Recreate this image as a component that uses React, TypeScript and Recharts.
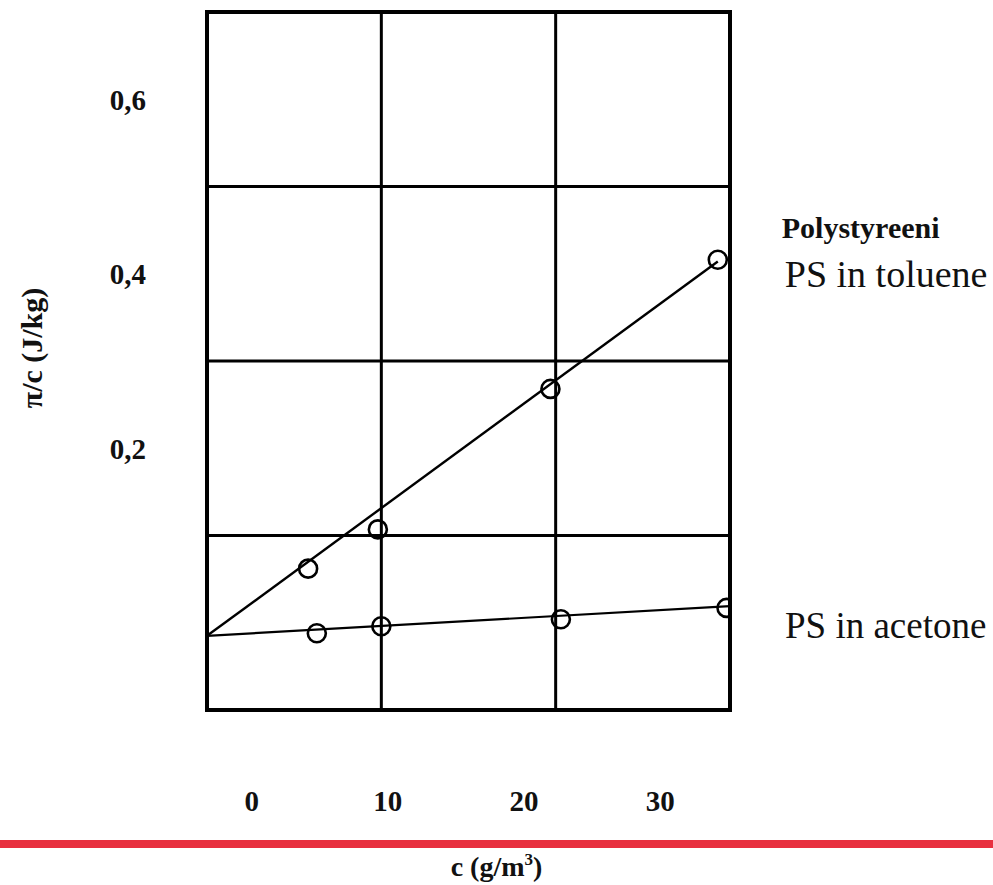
import React from 'react';
import { ComposedChart, Line, Scatter, XAxis, YAxis, ReferenceLine, ReferenceArea } from 'recharts';

// grid-aligned concentration axis (plot box spans 0..30) and pi/c axis
const xGridLines = [10, 20];
const yGridLines = [0.1, 0.3, 0.5];
const xTickLabels = [0, 10, 20, 30];
const yTickLabels = [0.2, 0.4, 0.6];

const tolueneC = [5.8, 9.8, 19.7, 29.3];
const tolueneY = [0.062, 0.107, 0.268, 0.416];
const acetoneC = [6.3, 10.0, 20.3, 29.8];
const acetoneY = [-0.012, -0.004, 0.004, 0.017];
const tolueneFitC = [0, 29.3];
const tolueneFitY = [-0.015, 0.414];
const acetoneFitC = [0, 30];
const acetoneFitY = [-0.015, 0.019];

const xDomain: [number, number] = [0, 30];
const yDomain: [number, number] = [-0.1, 0.7];
const xLabelDomain: [number, number] = [-3.28, 35.12];

const zip = (xs: number[], ys: number[]) => xs.map((x, i) => ({ x, y: ys[i] }));
const toluene = zip(tolueneC, tolueneY);
const acetone = zip(acetoneC, acetoneY);
const tolueneFit = zip(tolueneFitC, tolueneFitY);
const acetoneFit = zip(acetoneFitC, acetoneFitY);
// invisible anchor items so the label axis has data to build its ticks on
const labelAnchors = xTickLabels.map((x) => ({ x, y: yDomain[0] }));

const SERIF = '"Liberation Serif", "Times New Roman", serif';

const circle = (p: any) => (
  <circle cx={p.cx} cy={p.cy} r={9} fill="none" stroke="#000" strokeWidth={2.6} />
);
const nothing = () => <g />;

const tolueneLabel = (p: any) => {
  if (p.index !== tolueneFit.length - 1) return null;
  return (
    <g>
      <text x={p.x + 64} y={p.y - 24} fontFamily={SERIF} fontWeight="bold" fontSize={30} fill="#111">
        Polystyreeni
      </text>
      <text x={p.x + 67} y={p.y + 25} fontFamily={SERIF} fontSize={38} fill="#111">
        PS in toluene
      </text>
    </g>
  );
};

const acetoneLabel = (p: any) => {
  if (p.index !== acetoneFit.length - 1) return null;
  return (
    <text x={p.x + 55} y={p.y + 32} fontFamily={SERIF} fontSize={37} fill="#111">
      PS in acetone
    </text>
  );
};

const xTitle = (p: any) => {
  const vb = p.viewBox;
  return (
    <g>
      <rect x={0} y={vb.y + 130} width={993} height={8} fill="#e8303f" />
      <text x={vb.x + vb.width / 2 + 28} y={vb.y + 166} textAnchor="middle" fontFamily={SERIF} fontWeight="bold" fontSize={28} fill="#111">
        c (g/m<tspan fontSize={17} dy={-11}>3</tspan><tspan dy={11}>)</tspan>
      </text>
    </g>
  );
};

const yTitle = (p: any) => {
  const vb = p.viewBox;
  const cx = vb.x + 31;
  const cy = vb.y + 336;
  return (
    <text x={cx} y={cy} transform={`rotate(-90, ${cx}, ${cy})`} textAnchor="middle" dominantBaseline="central" fontFamily={SERIF} fontWeight="bold" fontSize={30} fill="#111">
      π/c (J/kg)
    </text>
  );
};

const tickStyle = { fontFamily: SERIF, fontWeight: 'bold', fontSize: 29, fill: '#111' } as any;

export default function App() {
  return (
    <div style={{ position: 'absolute', left: 0, top: 0, background: '#fff' }}>
      <ComposedChart width={993} height={885} margin={{ top: 12, right: 263, bottom: 0, left: 0 }}>
        <XAxis xAxisId="x" dataKey="x" type="number" domain={xDomain} allowDataOverflow hide />
        <XAxis
          xAxisId="lab"
          dataKey="x"
          type="number"
          domain={xLabelDomain}
          allowDataOverflow
          ticks={xTickLabels}
          interval={0}
          height={175}
          axisLine={false}
          tickLine={false}
          tickSize={0}
          tickMargin={80}
          tick={tickStyle}
          label={{ content: xTitle }}
        />
        <YAxis
          yAxisId="y"
          type="number"
          domain={yDomain}
          allowDataOverflow
          ticks={yTickLabels}
          interval={0}
          width={207}
          axisLine={false}
          tickLine={false}
          tickSize={0}
          tickMargin={61}
          tick={tickStyle}
          tickFormatter={(v: number) => v.toFixed(1).replace('.', ',')}
          label={{ content: yTitle }}
        />
        {xGridLines.map((v) => (
          <ReferenceLine key={'gx' + v} xAxisId="x" yAxisId="y" x={v} stroke="#000" strokeWidth={3} />
        ))}
        {yGridLines.map((v) => (
          <ReferenceLine key={'gy' + v} xAxisId="x" yAxisId="y" y={v} stroke="#000" strokeWidth={3} />
        ))}
        <ReferenceArea xAxisId="x" yAxisId="y" x1={xDomain[0]} x2={xDomain[1]} y1={yDomain[0]} y2={yDomain[1]} fill="none" fillOpacity={0} stroke="#000" strokeWidth={4} />
        <Scatter xAxisId="lab" yAxisId="y" data={labelAnchors} dataKey="y" shape={nothing} isAnimationActive={false} />
        <Line xAxisId="x" yAxisId="y" data={tolueneFit} dataKey="y" type="linear" stroke="#000" strokeWidth={2.4} dot={false} isAnimationActive={false} label={tolueneLabel} />
        <Line xAxisId="x" yAxisId="y" data={acetoneFit} dataKey="y" type="linear" stroke="#000" strokeWidth={2.2} dot={false} isAnimationActive={false} label={acetoneLabel} />
        <Scatter xAxisId="x" yAxisId="y" data={toluene} dataKey="y" shape={circle} isAnimationActive={false} />
        <Scatter xAxisId="x" yAxisId="y" data={acetone} dataKey="y" shape={circle} isAnimationActive={false} />
      </ComposedChart>
    </div>
  );
}
